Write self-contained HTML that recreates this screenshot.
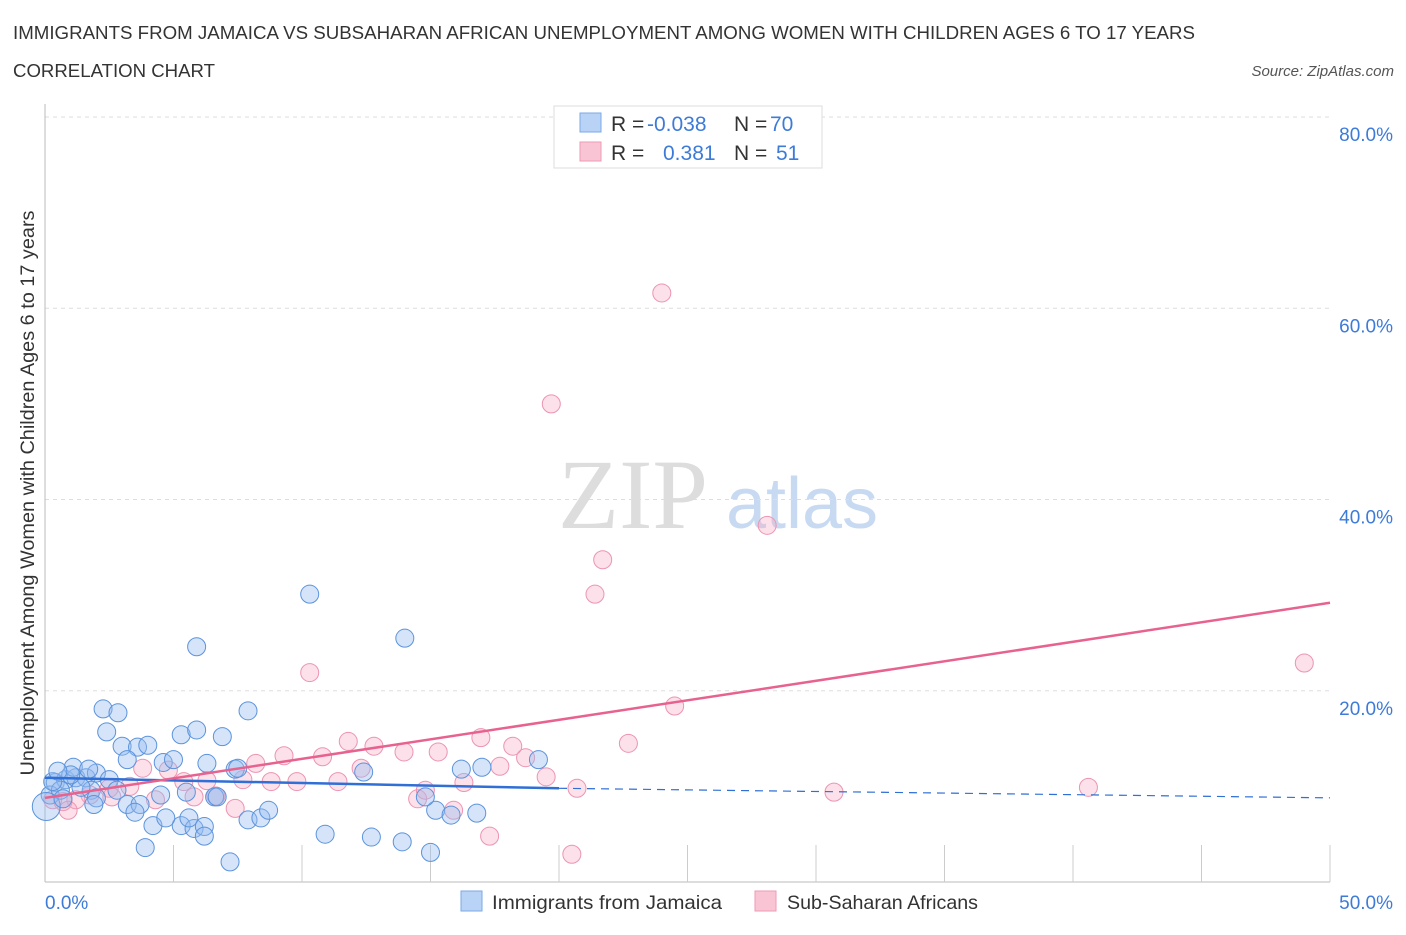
<!DOCTYPE html>
<html><head><meta charset="utf-8"><style>
body{margin:0;background:#fff;width:1406px;height:930px;overflow:hidden;font-family:"Liberation Sans",sans-serif}
</style></head><body>
<svg id="c" width="1406" height="930" xmlns="http://www.w3.org/2000/svg" font-family="Liberation Sans, sans-serif">
<text x="13" y="39" font-size="18" fill="#333" textLength="1182" lengthAdjust="spacingAndGlyphs">IMMIGRANTS FROM JAMAICA VS SUBSAHARAN AFRICAN UNEMPLOYMENT AMONG WOMEN WITH CHILDREN AGES 6 TO 17 YEARS</text>
<text x="13" y="77" font-size="18" fill="#333" textLength="202" lengthAdjust="spacingAndGlyphs">CORRELATION CHART</text>
<text x="1394" y="76" font-size="15" fill="#555" font-style="italic" text-anchor="end">Source: ZipAtlas.com</text>
<text x="633" y="528" font-size="100" fill="#ddd" font-family="Liberation Serif, serif" text-anchor="middle">ZIP</text>
<text x="802" y="528" font-size="72" fill="#c8daf2" text-anchor="middle">atlas</text>
<text transform="translate(34,493) rotate(-90)" font-size="19" fill="#333" text-anchor="middle" textLength="565" lengthAdjust="spacingAndGlyphs">Unemployment Among Women with Children Ages 6 to 17 years</text>
<g id="grid"></g><g id="pink"></g><g id="blue"></g><g id="lines"></g>
<g>
<rect x="554" y="106" width="268" height="62" fill="#fff" stroke="#ddd"/>
<rect x="580" y="113" width="21" height="19" fill="#b9d3f6" stroke="#7aa9e6"/>
<rect x="580" y="142" width="21" height="19" fill="#f9c5d5" stroke="#ee9ab5"/>
<text x="611" y="131" font-size="21" fill="#333">R = <tspan x="647" fill="#3d7bd9">-0.038</tspan><tspan x="734">N = </tspan><tspan x="770" fill="#3d7bd9">70</tspan></text>
<text x="611" y="160" font-size="21" fill="#333">R = <tspan x="663" fill="#3d7bd9">0.381</tspan><tspan x="734">N = </tspan><tspan x="776" fill="#3d7bd9">51</tspan></text>
</g>
<g>
<rect x="461" y="891" width="21" height="20" fill="#b9d3f6" stroke="#7aa9e6"/>
<text x="492" y="909" font-size="19.5" fill="#333" textLength="230" lengthAdjust="spacingAndGlyphs">Immigrants from Jamaica</text>
<rect x="755" y="891" width="21" height="20" fill="#f9c5d5" stroke="#ee9ab5"/>
<text x="787" y="909" font-size="19.5" fill="#333" textLength="191" lengthAdjust="spacingAndGlyphs">Sub-Saharan Africans</text>
</g>
</svg>
<script>
const yTicks=[20,40,60,80];
const yTickLabels=["20.0%","40.0%","60.0%","80.0%"];
const xTickLabels=["0.0%","50.0%"];
const blueX=[2.26,2.84,2.4,3.0,3.6,4.0,5.3,5.9,7.9,6.9,5.9,10.3,14.0,3.2,4.6,5.0,6.3,7.4,12.4,16.2,17.0,19.2,0.4,0.8,1.2,1.6,2.0,1.1,2.5,0.2,0.6,1.8,2.0,1.9,3.2,3.7,3.5,4.5,5.5,6.6,4.2,5.3,5.8,5.6,6.2,6.2,4.7,7.9,8.4,8.7,3.9,7.2,10.9,12.7,13.9,15.0,15.2,15.8,16.8,14.8,0.05,6.7,7.5,1.7,1.4,2.8,0.3,0.7,1.0,0.5];
const blueY=[18.1,17.7,15.7,14.2,14.1,14.3,15.4,15.9,17.9,15.2,24.6,30.1,25.5,12.8,12.5,12.8,12.4,11.8,11.5,11.8,12.0,12.8,10.4,10.7,10.9,10.9,11.4,12.0,10.7,9.1,9.6,9.6,8.8,8.1,8.1,8.1,7.3,9.1,9.4,8.9,5.9,5.9,5.6,6.7,5.8,4.8,6.7,6.5,6.7,7.5,3.6,2.1,5.0,4.7,4.2,3.1,7.5,7.0,7.2,8.9,7.9,8.9,11.9,11.8,9.9,9.6,10.5,8.7,11.2,11.6];
const pinkX=[24.0,19.7,28.1,21.7,21.4,49.0,10.3,24.5,22.7,11.8,12.8,13.97,15.3,16.96,18.2,18.7,17.7,19.5,20.7,30.7,40.6,9.3,10.8,8.2,3.8,4.8,7.7,8.8,9.8,11.4,12.3,6.3,5.4,3.3,2.5,1.75,1.2,0.7,0.3,4.3,5.8,7.4,14.5,14.8,15.9,16.3,17.3,20.5,6.65,2.6,0.9];
const pinkY=[61.6,50.0,37.3,33.7,30.1,22.9,21.9,18.4,14.5,14.7,14.2,13.6,13.6,15.1,14.2,13.0,12.1,11.0,9.8,9.4,9.9,13.2,13.1,12.4,11.9,11.7,10.7,10.5,10.5,10.5,11.9,10.6,10.5,10.0,9.8,9.1,8.6,8.4,8.6,8.6,8.9,7.7,8.7,9.6,7.5,10.4,4.8,2.9,9.0,8.9,7.5];
const blueTrend=[10.9,9.8,8.8]; // at x=0,20,50
const pinkTrend=[8.8,29.2];     // at x=0,50
const NS="http://www.w3.org/2000/svg";
const X0=45,X1=1330,Y0=882,Y80=117;
const sx=v=>X0+(X1-X0)*v/50;
const sy=v=>Y0-(Y0-Y80)*v/80;
function mk(p,t,a){const e=document.createElementNS(NS,t);for(const k in a)e.setAttribute(k,a[k]);document.getElementById(p).appendChild(e);return e;}
yTicks.forEach((t,i)=>{
 const l=mk('grid','line',{x1:X0,x2:X1,y1:sy(t),y2:sy(t),stroke:'#ddd','stroke-dasharray':'4,4'});
 
 
 const tx=mk('grid','text',{x:1393,y:sy(t)+24,'font-size':19,fill:'#3d7bd9','text-anchor':'end'});
 tx.textContent=yTickLabels[i];
 
 
});
const ya=mk('grid','line',{x1:X0,x2:X0,y1:104,y2:Y0,stroke:'#bbb'});


const xa=mk('grid','line',{x1:X0,x2:X1,y1:Y0,y2:Y0,stroke:'#bbb'});


for(let i=1;i<=10;i++){
 const tk=mk('grid','line',{x1:sx(i*5),x2:sx(i*5),y1:845,y2:Y0,stroke:'#ccc'});
 
 
}
[[0,'start',45],[50,'end',1393]].forEach((d,i)=>{
 const t=mk('grid','text',{x:d[2],y:909,'font-size':19,fill:'#3d7bd9','text-anchor':d[1]});
 t.textContent=xTickLabels[i];
 
 
});
pinkX.forEach((v,i)=>{
 const c=mk('pink','circle',{cx:sx(v),cy:sy(pinkY[i]),r:9,fill:'rgba(246,170,196,0.35)',stroke:'#ec94b1','stroke-width':1});
 
 
});
blueX.forEach((v,i)=>{
 const c=mk('blue','circle',{cx:sx(v),cy:sy(blueY[i]),r:(i==60?14:9),fill:'rgba(150,188,240,0.4)',stroke:'#5b93dc','stroke-width':1});
 
 
});
const b1=mk('lines','line',{x1:sx(0),y1:sy(blueTrend[0]),x2:sx(20),y2:sy(blueTrend[1]),stroke:'#2f6fd6','stroke-width':2.5});


const b2=mk('lines','line',{x1:sx(20),y1:sy(blueTrend[1]),x2:sx(50),y2:sy(blueTrend[2]),stroke:'#2f6fd6','stroke-width':1.2,'stroke-dasharray':'8,6'});


const p1=mk('lines','line',{x1:sx(0),y1:sy(pinkTrend[0]),x2:sx(50),y2:sy(pinkTrend[1]),stroke:'#e8628f','stroke-width':2.5});


</script>
</body></html>
